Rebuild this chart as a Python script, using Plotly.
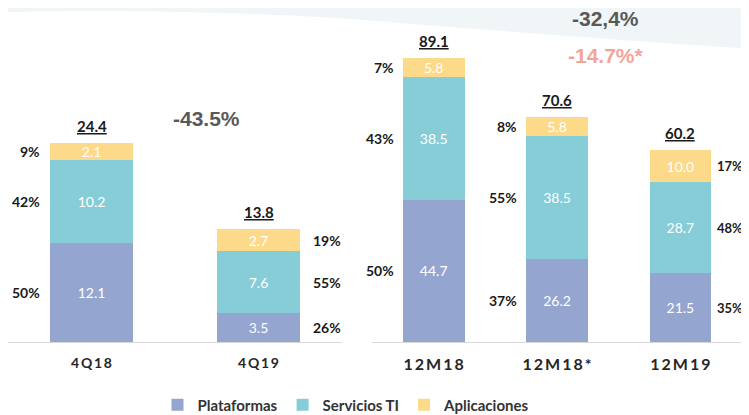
import plotly.graph_objects as go

# values
q_periods = ["4Q18", "4Q19"]
q_plataformas = [12.1, 3.5]
q_servicios = [10.2, 7.6]
q_aplicaciones = [2.1, 2.7]
q_totales = ["24.4", "13.8"]
q_pct_plat = ["50%", "26%"]
q_pct_serv = ["42%", "55%"]
q_pct_apl = ["9%", "19%"]

y_periods = ["12M18", "12M18*", "12M19"]
y_plataformas = [44.7, 26.2, 21.5]
y_servicios = [38.5, 38.5, 28.7]
y_aplicaciones = [5.8, 5.8, 10.0]
y_totales = ["89.1", "70.6", "60.2"]
y_pct_plat = ["50%", "37%", "35%"]
y_pct_serv = ["43%", "55%", "48%"]
y_pct_apl = ["7%", "8%", "17%"]

series_names = ["Plataformas", "Servicios TI", "Aplicaciones"]
colors = ["#94A6CF", "#86CDD8", "#FDD98A"]

# the page body keeps an 8px margin, so the figure sits 8px in from the corner
OFF = 8
W, H = 749 - OFF, 415 - OFF
FONT = "Lato"

def px(x):
    return min(1, max(0, (x - OFF) / W))

def py(y):
    return min(1, max(0, 1 - (y - OFF) / H))

fig = go.Figure()

def add_group(cats, vals_list, xa, ya, show):
    for name, vals, col in zip(series_names, vals_list, colors):
        fig.add_trace(go.Bar(
            x=cats, y=vals, name="<b>%s</b>" % name, marker_color=col, marker_line_width=0,
            width=0.5, xaxis=xa, yaxis=ya, showlegend=show, legendgroup=name,
            texttemplate="%{y:.1f}", textposition="inside", insidetextanchor="middle",
            textangle=0, textfont=dict(color="white", size=14, family=FONT),
            hoverinfo="skip"))

add_group(q_periods, [q_plataformas, q_servicios, q_aplicaciones], "x", "y", True)
add_group(y_periods, [y_plataformas, y_servicios, y_aplicaciones], "x2", "y2", False)

def add_labels(cats, vals_list, pcts_list, totals, xr, yr, sides, shifts, right_size=14):
    for i, c in enumerate(cats):
        base = 0
        for vals, pcts in zip(vals_list, pcts_list):
            mid = base + vals[i] / 2
            base += vals[i]
            left = sides[i] == "left"
            fig.add_annotation(
                x=c, y=mid, xref=xr, yref=yr, text="<b>%s</b>" % pcts[i],
                showarrow=False, xanchor="right" if left else "left",
                xshift=shifts[0] if left else shifts[1],
                font=dict(size=14 if left else right_size, color="#1a1a1a", family=FONT))
        fig.add_annotation(
            x=c, y=base, xref=xr, yref=yr, text="<b><u>%s</u></b>" % totals[i],
            showarrow=False, yanchor="bottom", yshift=6,
            font=dict(size=15, color="#1a1a1a", family=FONT))

add_labels(q_periods, [q_plataformas, q_servicios, q_aplicaciones],
           [q_pct_plat, q_pct_serv, q_pct_apl], q_totales, "x", "y",
           ["left", "right"], (-50, 52))
add_labels(y_periods, [y_plataformas, y_servicios, y_aplicaciones],
           [y_pct_plat, y_pct_serv, y_pct_apl], y_totales, "x2", "y2",
           ["left", "left", "right"], (-38, 35), right_size=13)

# variation callouts
fig.add_annotation(x=px(206), y=py(118), xref="paper", yref="paper", xanchor="center",
                   yanchor="middle", text="<b>-43.5%</b>", showarrow=False,
                   font=dict(size=21, color="#595959", family="Liberation Sans"))
fig.add_annotation(x=px(605), y=py(19), xref="paper", yref="paper", xanchor="center",
                   yanchor="middle", text="<b>-32,4%</b>", showarrow=False,
                   font=dict(size=21, color="#595959", family="Liberation Sans"))
fig.add_annotation(x=px(606), y=py(56), xref="paper", yref="paper", xanchor="center",
                   yanchor="middle", text="<b>-14.7%*</b>", showarrow=False,
                   font=dict(size=21, color="#F4A497", family="Liberation Sans"))

# faint swoosh in the top band
fig.add_shape(type="path", xref="paper", yref="paper", layer="below",
              path="M 0 1 L 1 1 L 1 0.90 Q 0.75 0.93 0.45 0.975 Q 0.2 1.0 0 0.99 Z",
              fillcolor="rgba(205,222,228,0.3)", line_width=0)

ydom = [py(342), py(10)]
axis_common = dict(showgrid=False, zeroline=False, showline=True, linecolor="#d9d9d9",
                   linewidth=1, ticks="outside", ticklen=8, tickcolor="rgba(0,0,0,0)",
                   fixedrange=True)

fig.update_layout(
    width=W, height=H, barmode="stack", plot_bgcolor="white", paper_bgcolor="white",
    margin=dict(l=0, r=0, t=0, b=0, autoexpand=False),
    uniformtext=dict(minsize=13, mode="show"),
    xaxis=dict(domain=[px(8), px(342)], anchor="y", range=[-0.5, 1.5],
               tickmode="array", tickvals=q_periods,
               ticktext=["<b>%s</b>" % "\u2009".join(c) for c in q_periods],
               tickfont=dict(size=14, color="#262626", family=FONT), **axis_common),
    xaxis2=dict(domain=[px(372), px(742)], anchor="y2", range=[-0.5, 2.5],
                tickmode="array", tickvals=y_periods,
                ticktext=["<b>%s</b>" % "\u2009".join(c) for c in y_periods],
                tickfont=dict(size=16, color="#262626", family=FONT), **axis_common),
    yaxis=dict(domain=ydom, range=[0, 332 / 8.16], visible=False, anchor="x"),
    yaxis2=dict(domain=ydom, range=[0, 332 / 3.187], visible=False, anchor="x2"),
    legend=dict(orientation="h", x=px(346), xanchor="center", y=py(405), yanchor="middle",
                font=dict(size=15, color="#333333", family=FONT), traceorder="normal",
                itemwidth=30),
)

fig.write_html("out.html")
